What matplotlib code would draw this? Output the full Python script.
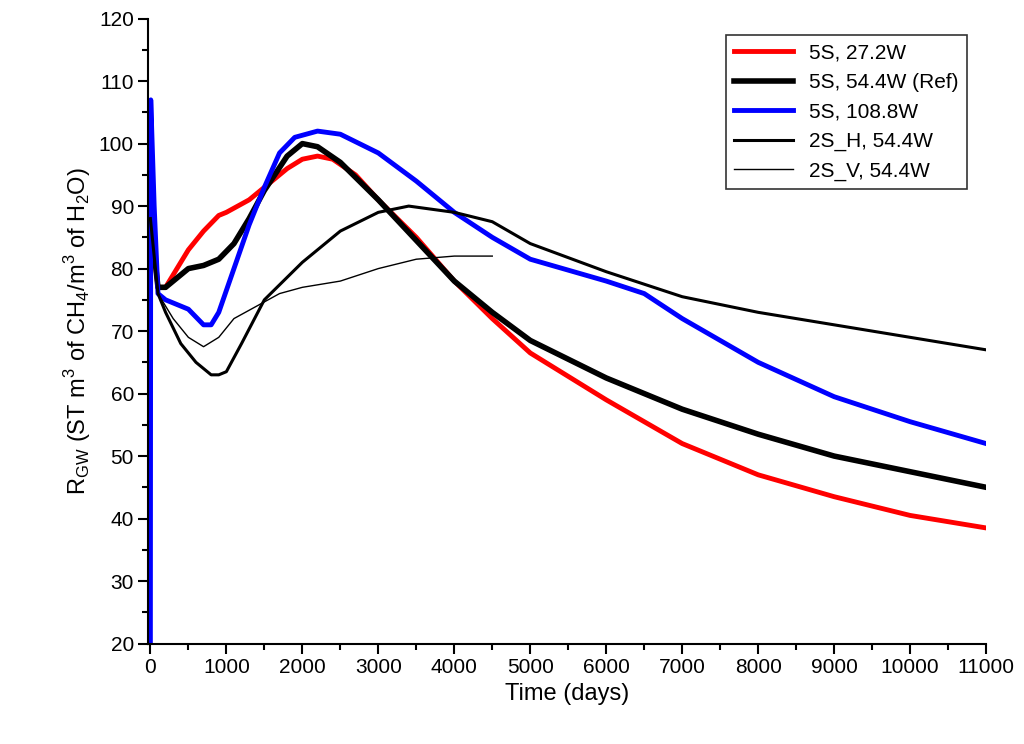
import matplotlib
matplotlib.use("Agg")
import matplotlib.pyplot as plt
from matplotlib.ticker import MultipleLocator

plt.rcParams["font.family"] = "Liberation Sans"
plt.rcParams["mathtext.fontset"] = "custom"
plt.rcParams["mathtext.rm"] = "Liberation Sans"

red_x = [0,100,200,300,500,700,900,1000,1300,1500,1800,2000,2200,2400,2700,3000,3500,4000,4500,5000,6000,7000,8000,9000,10000,11000]
red_y = [88,77,77,79,83,86,88.5,89,91,93,96,97.5,98,97.5,95,91,85,78,72,66.5,59,52,47,43.5,40.5,38.5]
blk_x = [0,100,200,400,500,700,900,1100,1300,1500,1800,2000,2200,2500,3000,3500,4000,4500,5000,6000,7000,8000,9000,10000,11000]
blk_y = [88,77,77,79,80,80.5,81.5,84,88,92.5,98,100,99.5,97,91,84.5,78,73,68.5,62.5,57.5,53.5,50,47.5,45]
blu_x = [0,5,50,100,200,500,700,800,900,1100,1300,1500,1700,1900,2200,2500,3000,3500,4000,4500,5000,6000,6500,7000,8000,9000,10000,11000]
blu_y = [20,107,90,76,75,73.5,71,71,73,80,87,93,98.5,101,102,101.5,98.5,94,89,85,81.5,78,76,72,65,59.5,55.5,52]
h_x = [0,100,200,400,600,800,900,1000,1200,1500,2000,2500,3000,3400,4000,4500,5000,6000,7000,8000,9000,10000,11000]
h_y = [88,76,73,68,65,63,63,63.5,68,75,81,86,89,90,89,87.5,84,79.5,75.5,73,71,69,67]
v_x = [0,100,300,500,700,900,1100,1400,1700,2000,2500,3000,3500,4000,4500]
v_y = [88,76,72,69,67.5,69,72,74,76,77,78,80,81.5,82,82]

fig, ax = plt.subplots(figsize=(10.24, 7.44), dpi=100)
fig.subplots_adjust(left=0.145, right=0.963, bottom=0.135, top=0.975)
ax.plot(red_x, red_y, color="#ff0000", lw=3.5, label="5S, 27.2W")
ax.plot(blk_x, blk_y, color="black", lw=4, label="5S, 54.4W (Ref)")
ax.plot(blu_x, blu_y, color="#0000ff", lw=3.5, label="5S, 108.8W")
ax.plot(h_x, h_y, color="black", lw=2.2, label="2S_H, 54.4W")
ax.plot(v_x, v_y, color="black", lw=1, label="2S_V, 54.4W")
ax.set_xlim(-25, 11000)
ax.set_ylim(20, 120)
ax.xaxis.set_major_locator(MultipleLocator(1000))
ax.xaxis.set_minor_locator(MultipleLocator(500))
ax.yaxis.set_major_locator(MultipleLocator(10))
ax.yaxis.set_minor_locator(MultipleLocator(5))
ax.tick_params(which="both", direction="out", labelsize=15, width=1.5)
ax.tick_params(which="major", length=7)
ax.tick_params(which="minor", length=4)
for s in ["top", "right"]:
    ax.spines[s].set_visible(False)
for s in ["left", "bottom"]:
    ax.spines[s].set_linewidth(1.5)
ax.set_xlabel("Time (days)", fontsize=17)
ax.set_ylabel(r"R$_{\mathregular{GW}}$ (ST m$^{\mathregular{3}}$ of CH$_{\mathregular{4}}$/m$^{\mathregular{3}}$ of H$_{\mathregular{2}}$O)", fontsize=17)
leg = ax.legend(loc="upper right", bbox_to_anchor=(0.99, 0.99), fontsize=15, frameon=True, fancybox=False, edgecolor="black", handlelength=2.8)
leg.get_frame().set_linewidth(1.2)
fig.savefig("out.png")
